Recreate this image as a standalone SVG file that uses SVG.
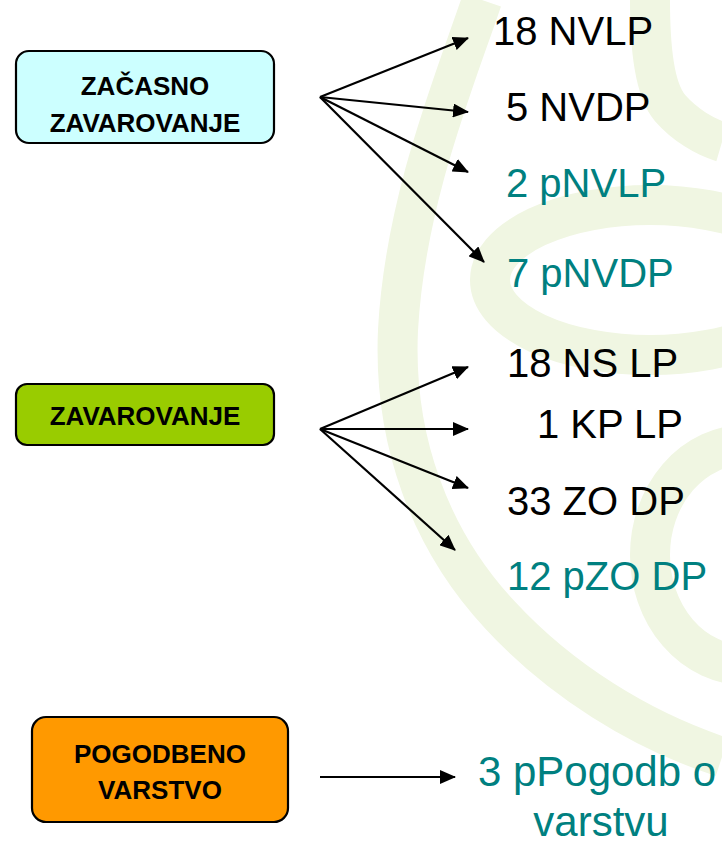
<svg xmlns="http://www.w3.org/2000/svg" width="722" height="846" viewBox="0 0 722 846">
  <defs>
    <style>
      .band { fill: none; stroke: #f0f6e2; stroke-width: 40; }
      .box { stroke: #000; stroke-width: 2.2; }
      .boxlabel { font-family: "Liberation Sans", Arial, sans-serif; font-weight: bold; font-size: 26px; fill: #000; text-anchor: middle; }
      .item { font-family: "Liberation Sans", Arial, sans-serif; font-size: 40px; fill: #000; }
      .big { font-size: 42px; text-anchor: middle; }
      .teal { fill: #008080; }
      .conn { stroke: #000; stroke-width: 2.2; fill: none; marker-end: url(#arrow); }
    </style>
    <marker id="arrow" markerUnits="userSpaceOnUse" markerWidth="16" markerHeight="14" viewBox="0 0 16 14" refX="15" refY="7" orient="auto">
      <path d="M0,0 L16,7 L0,14 z" fill="#000"/>
    </marker>
  </defs>

  <rect width="722" height="846" fill="#ffffff"/>

  <g id="background">
    <path class="band" d="M482,0 C455,80 405,200 398,330 C393,440 430,540 500,615 C560,680 640,730 722,757"/>
    <path class="band" d="M650,0 C650,50 655,90 670,108 C685,125 705,137 722,142"/>
    <ellipse class="band" cx="650" cy="280" rx="160" ry="75"/>
    <ellipse class="band" cx="745" cy="555" rx="95" ry="110"/>
  </g>

  <g id="connectors">
    <line class="conn" x1="320" y1="97" x2="468" y2="38"/>
    <line class="conn" x1="320" y1="97" x2="468" y2="112"/>
    <line class="conn" x1="320" y1="97" x2="468" y2="172"/>
    <line class="conn" x1="320" y1="97" x2="484" y2="262"/>
    <line class="conn" x1="320" y1="429" x2="468" y2="367"/>
    <line class="conn" x1="320" y1="429" x2="468" y2="429"/>
    <line class="conn" x1="320" y1="429" x2="468" y2="488"/>
    <line class="conn" x1="320" y1="429" x2="455" y2="550"/>
    <line class="conn" x1="320" y1="777" x2="455" y2="777"/>
  </g>

  <g id="node-zacasno">
    <rect class="box" x="16" y="51" width="258" height="92" rx="13" fill="#ccffff"/>
    <text class="boxlabel" x="145" y="95">ZAČASNO</text>
    <text class="boxlabel" x="145" y="132">ZAVAROVANJE</text>
  </g>

  <g id="node-zavarovanje">
    <rect class="box" x="16" y="384" width="258" height="61" rx="11" fill="#99cc00"/>
    <text class="boxlabel" x="145" y="425">ZAVAROVANJE</text>
  </g>

  <g id="node-pogodbeno">
    <rect class="box" x="32" y="717" width="256" height="105" rx="14" fill="#ff9900"/>
    <text class="boxlabel" x="160" y="763">POGODBENO</text>
    <text class="boxlabel" x="160" y="799">VARSTVO</text>
  </g>

  <g id="node-18nvlp"><text class="item" x="493" y="45">18 NVLP</text></g>
  <g id="node-5nvdp"><text class="item" x="506" y="121">5 NVDP</text></g>
  <g id="node-2pnvlp"><text class="item teal" x="506" y="197">2 pNVLP</text></g>
  <g id="node-7pnvdp"><text class="item teal" x="507" y="287">7 pNVDP</text></g>

  <g id="node-18nslp"><text class="item" x="507" y="377">18 NS LP</text></g>
  <g id="node-1kplp"><text class="item" x="537" y="438">1 KP LP</text></g>
  <g id="node-33zodp"><text class="item" x="507" y="515">33 ZO DP</text></g>
  <g id="node-12pzodp"><text class="item teal" x="507" y="590">12 pZO DP</text></g>

  <g id="node-3ppogodb">
    <text class="item teal big" x="597" y="786">3 pPogodb o</text>
    <text class="item teal big" x="601" y="836">varstvu</text>
  </g>
</svg>
